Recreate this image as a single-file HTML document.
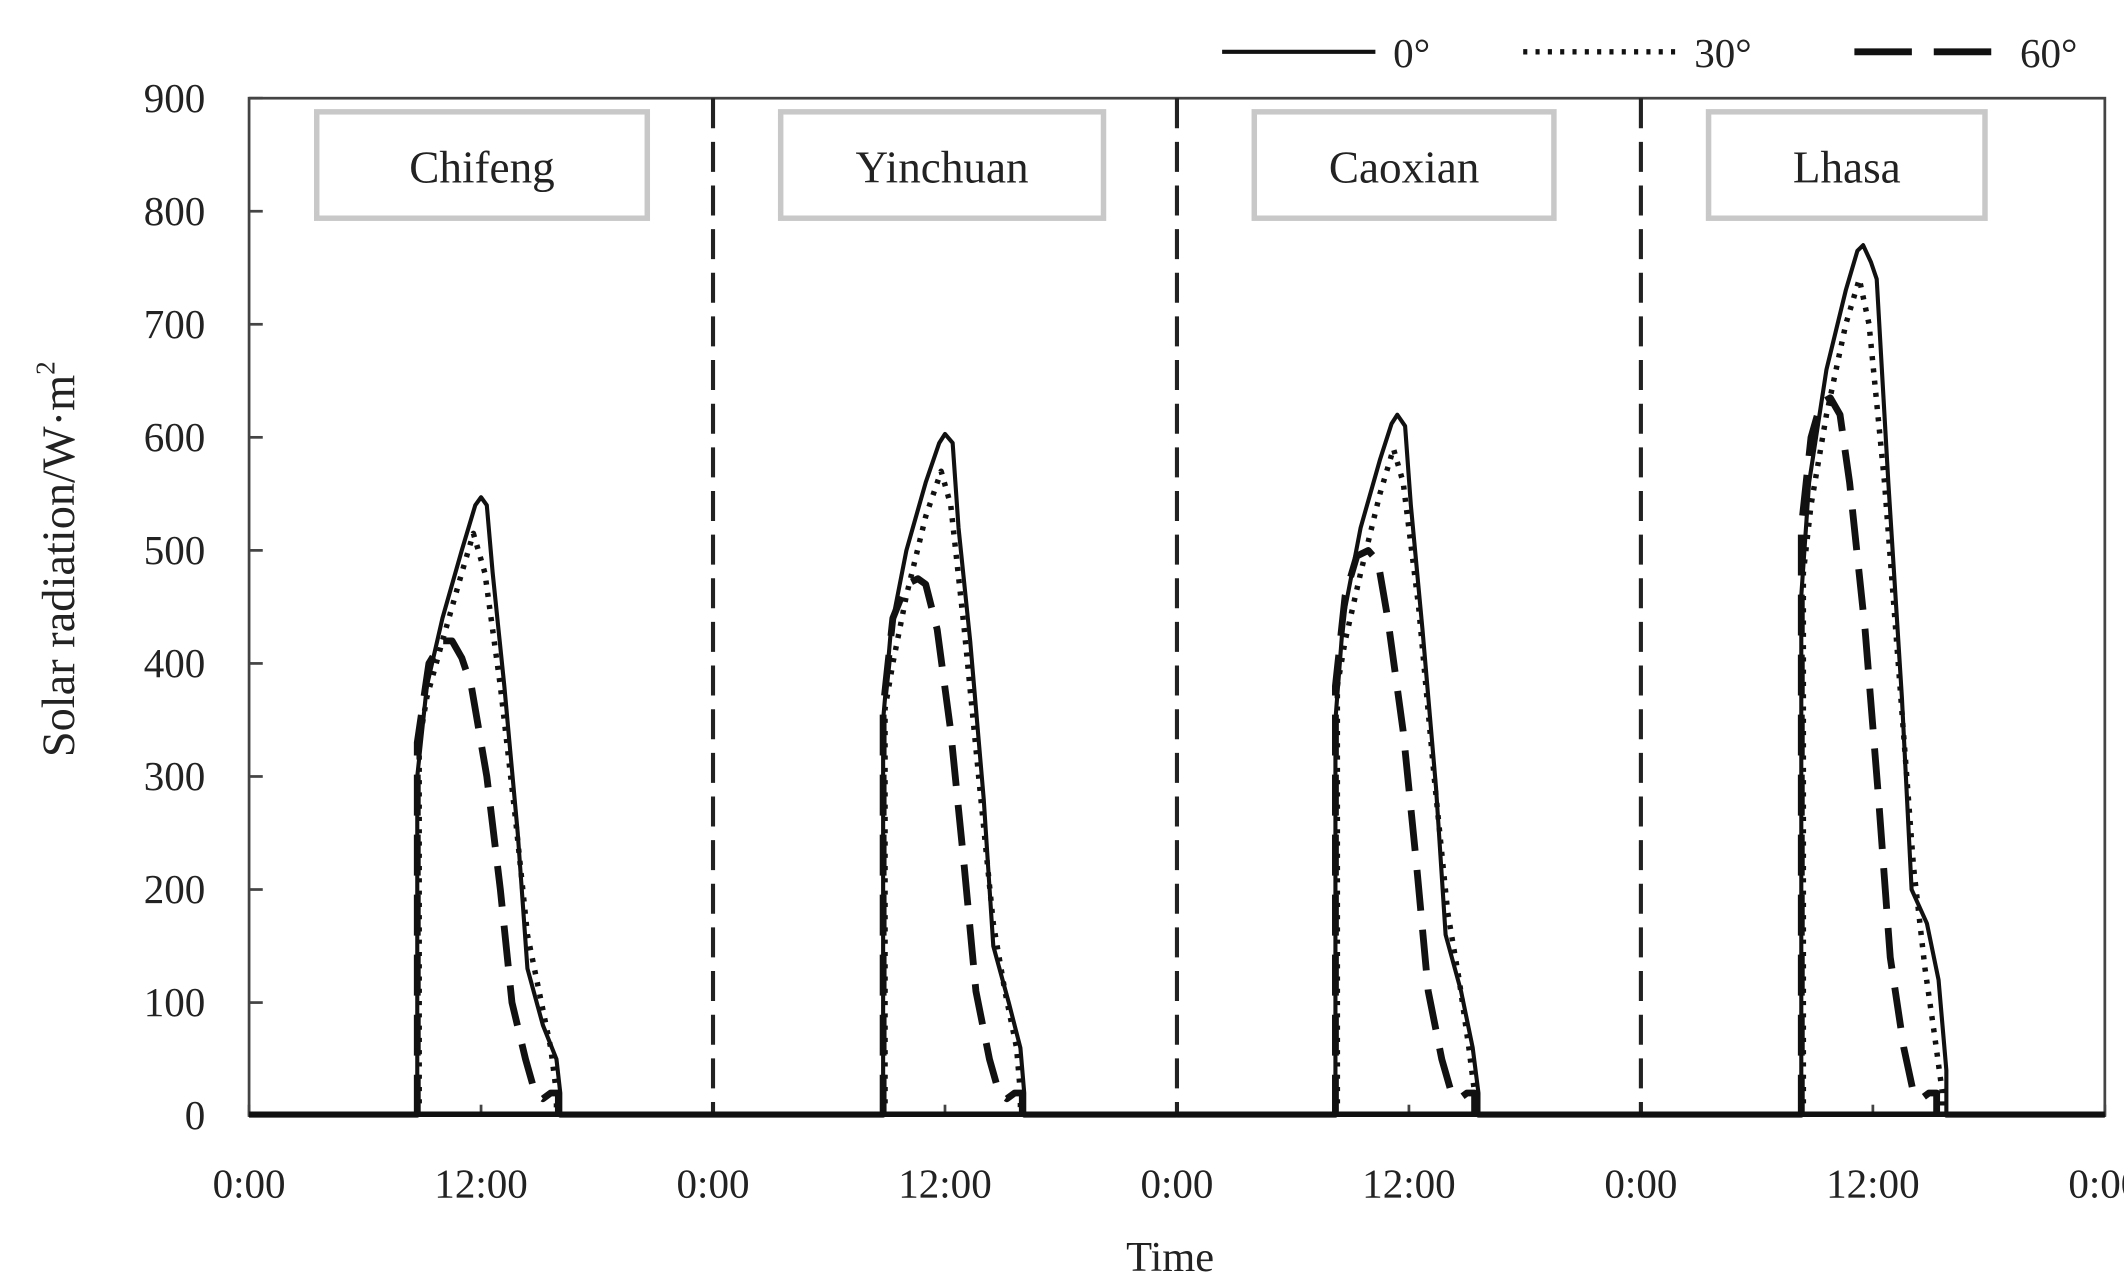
<!DOCTYPE html>
<html><head><meta charset="utf-8"><style>
html,body{margin:0;padding:0;background:#fff}
svg{display:block}
text{font-family:"Liberation Serif",serif;fill:#222}
</style></head><body>
<svg id="chart" width="2124" height="1282" viewBox="0 0 1552 940" preserveAspectRatio="none" xmlns="http://www.w3.org/2000/svg">
<g id="legend">
 <line x1="893" y1="38" x2="1005" y2="38" stroke="#111" stroke-width="3"/>
 <text x="1018" y="49" font-size="30">0°</text>
 <line x1="1113" y1="38" x2="1225" y2="38" stroke="#111" stroke-width="4" stroke-dasharray="3,6"/>
 <text x="1238" y="49" font-size="30">30°</text>
 <line x1="1355" y1="38" x2="1470" y2="38" stroke="#111" stroke-width="5" stroke-dasharray="42,16"/>
 <text x="1476" y="49" font-size="30">60°</text>
</g>
<rect x="182" y="72" width="1356" height="746" fill="none" stroke="#444" stroke-width="2"/>
<g id="yaxis"></g>
<g id="xaxis"></g>
<g id="boxes"></g>
<g id="series"></g>
<text x="855" y="932" font-size="31" text-anchor="middle">Time</text>
<text transform="translate(54,410) rotate(-90)" font-size="34" text-anchor="middle">Solar radiation/W·m<tspan font-size="20" dy="-14">2</tspan></text>
</svg>
<script>
const yTicks=[0,100,200,300,400,500,600,700,800,900];
const xTickHours=[0,12,24,36,48,60,72,84,96];
const xTickLabels=["0:00","12:00","0:00","12:00","0:00","12:00","0:00","12:00","0:00"];
const cities=["Chifeng","Yinchuan","Caoxian","Lhasa"];
const cityBoxHours=[3.5,27.5,52,75.5];
const cityBoxWidthsH=[17.1,16.7,15.5,14.3];
const h0_Chifeng=[0,8.7,8.7,9.2,10,11,11.7,12,12.3,12.6,13.2,13.9,14.4,15.2,15.9,16.1,16.1,24];
const v0_Chifeng=[0,0,300,380,440,500,540,547,540,480,380,250,130,80,50,20,0,0];
const h30_Chifeng=[8.8,8.8,9.2,10,11,11.6,12.2,13,13.8,14.4,15,15.6,15.9,15.9];
const v30_Chifeng=[0,330,370,420,480,515,480,380,260,160,110,60,20,0];
const h60_Chifeng=[8.7,8.7,9.3,10,10.5,11,11.5,12.3,13,13.6,14.3,14.8,15.2,15.6,16,16];
const v60_Chifeng=[0,330,400,420,420,405,380,300,200,100,50,20,15,20,20,0];
const h0_Yinchuan=[0,8.8,8.8,9.2,10,11,11.7,12,12.4,12.7,13.3,14,14.5,15.3,15.9,16.1,16.1,24];
const v0_Yinchuan=[0,0,350,430,500,560,595,603,595,520,420,280,150,100,60,20,0,0];
const h30_Yinchuan=[8.9,8.9,9.3,10,11,11.8,12.3,13,13.8,14.5,15.1,15.7,15.9,15.9];
const v30_Yinchuan=[0,360,400,460,530,570,540,430,290,170,110,60,20,0];
const h60_Yinchuan=[8.8,8.8,9.3,10,10.6,11,11.6,12.3,13,13.6,14.3,14.8,15.2,15.6,16,16];
const v60_Yinchuan=[0,360,440,470,475,470,430,340,220,110,50,20,15,20,20,0];
const h0_Caoxian=[0,8.2,8.2,8.6,9.5,10.5,11.1,11.4,11.8,12.1,12.7,13.4,13.9,14.7,15.3,15.6,15.6,24];
const v0_Caoxian=[0,0,350,440,520,580,612,620,610,540,430,290,160,110,60,20,0,0];
const h30_Caoxian=[8.3,8.3,8.7,9.5,10.5,11.2,11.7,12.5,13.3,14,14.6,15.1,15.4,15.4];
const v30_Caoxian=[0,380,420,480,550,590,560,450,300,180,120,60,20,0];
const h60_Caoxian=[8.2,8.2,8.7,9.3,9.9,10.4,10.9,11.7,12.4,13,13.7,14.2,14.6,15,15.4,15.4];
const v60_Caoxian=[0,380,460,495,500,490,440,340,220,110,50,20,15,20,20,0];
const h0_Lhasa=[0,8.3,8.3,8.7,9.6,10.6,11.2,11.5,11.9,12.2,12.8,13.5,14,14.8,15.4,15.8,15.8,24];
const v0_Lhasa=[0,0,460,560,660,730,765,770,755,740,560,370,200,170,120,40,0,0];
const h30_Lhasa=[8.4,8.4,8.8,9.6,10.6,11.3,11.8,12.6,13.4,14.1,14.7,15.2,15.6,15.6];
const v30_Lhasa=[0,480,540,620,700,740,700,560,380,220,130,70,20,0];
const h60_Lhasa=[8.3,8.3,8.8,9.3,9.8,10.3,10.8,11.6,12.3,12.9,13.6,14.1,14.5,14.9,15.3,15.3];
const v60_Lhasa=[0,520,600,630,635,620,560,430,280,140,60,20,15,20,20,0];
const seriesData=[
 [[h0_Chifeng,v0_Chifeng],[h30_Chifeng,v30_Chifeng],[h60_Chifeng,v60_Chifeng]],
 [[h0_Yinchuan,v0_Yinchuan],[h30_Yinchuan,v30_Yinchuan],[h60_Yinchuan,v60_Yinchuan]],
 [[h0_Caoxian,v0_Caoxian],[h30_Caoxian,v30_Caoxian],[h60_Caoxian,v60_Caoxian]],
 [[h0_Lhasa,v0_Lhasa],[h30_Lhasa,v30_Lhasa],[h60_Lhasa,v60_Lhasa]]
];
const NS="http://www.w3.org/2000/svg";
const X0=182,X1=1538,Y0=818,Y1=72;
const xs=h=>X0+h*(X1-X0)/96;
const ys=v=>Y0-v*(Y0-Y1)/900;
function mk(tag,attrs,parent){const e=document.createElementNS(NS,tag);for(const k in attrs)e.setAttribute(k,attrs[k]);parent.appendChild(e);return e;}
const yg=document.getElementById('yaxis');
yTicks.forEach(t=>{
 const l=mk('line',{x1:X0,x2:X0+10,y1:ys(t),y2:ys(t),stroke:'#444','stroke-width':2},yg);
 
 
 const tx=mk('text',{x:150,y:ys(t)+10,'font-size':30,'text-anchor':'end'},yg);
 tx.textContent=t;
 
 
});
const xg=document.getElementById('xaxis');
xTickHours.forEach((h,i)=>{
 const l=mk('line',{x1:xs(h),x2:xs(h),y1:Y0,y2:Y0-8,stroke:'#444','stroke-width':2},xg);
 
 
 const tx=mk('text',{x:xs(h),y:878,'font-size':30,'text-anchor':'middle'},xg);
 tx.textContent=xTickLabels[i];
 
 
});
[24,48,72].forEach(h=>{
 const d=mk('line',{x1:xs(h),x2:xs(h),y1:Y1,y2:Y0,stroke:'#222','stroke-width':3,'stroke-dasharray':'22,10'},xg);
 
 
});
const bg=document.getElementById('boxes');
cities.forEach((c,i)=>{
 const x=xs(cityBoxHours[i]),w=cityBoxWidthsH[i]*(X1-X0)/96;
 const r=mk('rect',{x:x,y:82,width:w,height:78,fill:'#fff',stroke:'#c8c8c8','stroke-width':4},bg);
 
 
 const t=mk('text',{x:x+w/2,y:134,'font-size':33,'text-anchor':'middle'},bg);
 t.textContent=c;
 
 
});
const sg=document.getElementById('series');
const styles=[{w:3,d:''},{w:4,d:'3,6'},{w:5,d:'30,14'}];
const angles=['0','30','60'];
seriesData.forEach((city,ci)=>{
 city.forEach((s,si)=>{
  const [hs,vs]=s;
  const pts=hs.map((h,k)=>xs(ci*24+h).toFixed(1)+','+ys(vs[k]).toFixed(1)).join(' ');
  const p=mk('polyline',{points:pts,fill:'none',stroke:'#111','stroke-width':styles[si].w,'stroke-dasharray':styles[si].d,'stroke-linejoin':'round'},sg);
  
  
 });
});
const base=mk('line',{x1:X0,x2:X1,y1:Y0-1,y2:Y0-1,stroke:'#111','stroke-width':4},sg);


</script>
</body></html>
